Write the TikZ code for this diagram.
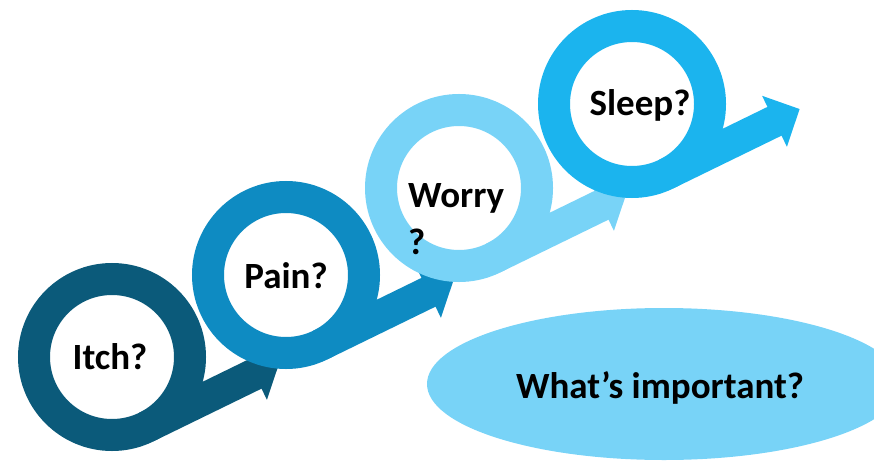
\documentclass[tikz,border=0pt]{standalone}
\usepackage{fontspec}
\setmainfont{Carlito}
\usetikzlibrary{arrows.meta, shapes.geometric}

\definecolor{itchblue}{RGB}{11,90,122}
\definecolor{painblue}{RGB}{14,139,194}
\definecolor{worryblue}{RGB}{120,211,247}
\definecolor{sleepblue}{RGB}{27,180,238}

\begin{document}
\begin{tikzpicture}[x=1pt, y=1pt,
  ring/.style={circle, draw=#1, line width=32pt, fill=white, minimum size=156pt, inner sep=0pt, outer sep=0pt},
  shaft/.style={draw=#1, line width=32pt, -{Triangle[length=28pt, width=55pt]}},
  word/.style={font=\bfseries\fontsize{37}{47}\selectfont, inner sep=0pt}]
\useasboundingbox (0,0) rectangle (874,461);
\clip (0,0) rectangle (874,461);
% rings, each with its arrow, later ones on top
\foreach \name/\x/\y/\col in {itch/112/104/itchblue, pain/286/186/painblue, worry/459/273/worryblue, sleep/632/357/sleepblue} {
\node[ring=\col] (\name) at (\x,\y) {};
\draw[shaft=\col] (\name.-64) -- ++(26:148.5pt);
}
\node[word, anchor=base] (itchtxt) at (110,92) {Itch?};
\node[word, anchor=base] (paintxt) at (286,173) {Pain?};
\node[word, align=left, anchor=north west] (worrytxt) at (408,278) {Worry\\?};
\node[word, anchor=base] (sleeptxt) at (640,345) {Sleep?};
% the question below
\node[ellipse, fill=worryblue, minimum width=474pt, minimum height=152pt, inner sep=0pt] (goal) at (664,77) {};
\node[word, anchor=base] (goaltxt) at (660,63) {What’s important?};
\end{tikzpicture}
\end{document}
